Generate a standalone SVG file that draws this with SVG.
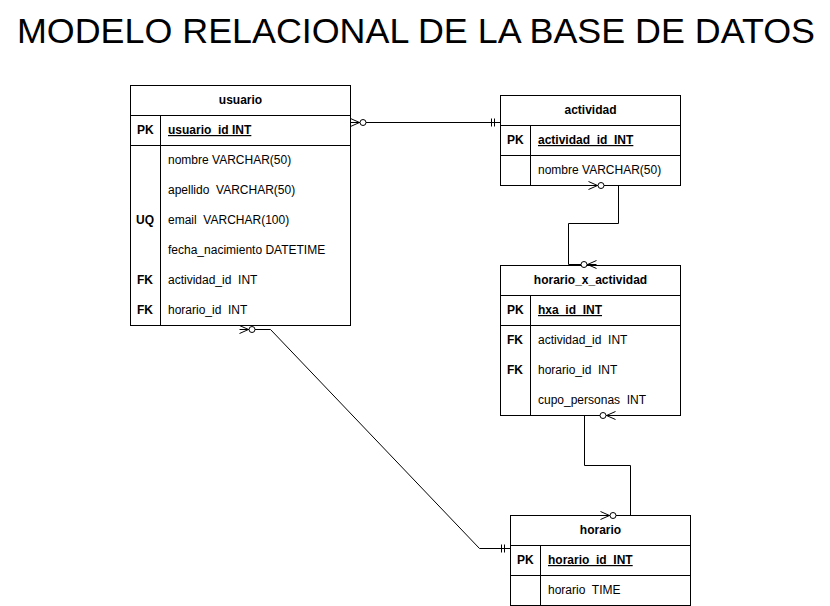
<svg xmlns="http://www.w3.org/2000/svg" width="830" height="606" viewBox="0 0 830 606" xml:space="preserve">
<style>
.box{fill:#fff;stroke:#000;stroke-width:1}
.ln{stroke:#000;stroke-width:1;fill:none}
text{font-family:"Liberation Sans",Arial,sans-serif;font-size:12px;fill:#000;white-space:pre}
.h{font-weight:bold;text-anchor:middle}
.k{font-weight:bold}
.pk{font-weight:bold;text-decoration:underline}
.title{font-size:35px}
.edge{stroke:#000;stroke-width:1;fill:none}
</style>
<defs>
<marker id="zmany" markerUnits="userSpaceOnUse" viewBox="-20 -8 24 16" refX="0" refY="0" markerWidth="24" markerHeight="16" orient="auto-start-reverse" overflow="visible">
<path d="M0,-4 L-9,0 L0,4" fill="none" stroke="#000" stroke-width="1"/>
<circle cx="-12.5" cy="0" r="3" fill="#fff" stroke="#000" stroke-width="1"/>
</marker>
<marker id="one" markerUnits="userSpaceOnUse" viewBox="-20 -8 24 16" refX="0" refY="0" markerWidth="24" markerHeight="16" orient="auto-start-reverse" overflow="visible">
<path d="M-9,-4 L-9,4 M-6,-4 L-6,4" fill="none" stroke="#000" stroke-width="1"/>
</marker>
</defs>
<rect width="830" height="606" fill="#fff"/>
<text class="title" x="17" y="43" textLength="798" lengthAdjust="spacingAndGlyphs">MODELO RELACIONAL DE LA BASE DE DATOS</text>
<g id="usuario">
<rect class="box" x="130.5" y="85.5" width="220" height="240"/>
<line class="ln" x1="130.5" y1="115.5" x2="350.5" y2="115.5"/>
<line class="ln" x1="130.5" y1="145.5" x2="350.5" y2="145.5"/>
<line class="ln" x1="160.5" y1="115.5" x2="160.5" y2="325.5"/>
<text class="h" x="240.5" y="104">usuario</text>
<text class="k" x="137" y="134">PK</text>
<text class="pk" x="168" y="134">usuario_id INT</text>
<text x="168" y="164">nombre VARCHAR(50)</text>
<text x="168" y="194">apellido  VARCHAR(50)</text>
<text class="k" x="136" y="224">UQ</text>
<text x="168" y="224">email  VARCHAR(100)</text>
<text x="168" y="254">fecha_nacimiento DATETIME</text>
<text class="k" x="137" y="284">FK</text>
<text x="168" y="284">actividad_id  INT</text>
<text class="k" x="137" y="314">FK</text>
<text x="168" y="314">horario_id  INT</text>
</g>
<g id="actividad">
<rect class="box" x="500.5" y="95.5" width="180" height="90"/>
<line class="ln" x1="500.5" y1="125.5" x2="680.5" y2="125.5"/>
<line class="ln" x1="500.5" y1="155.5" x2="680.5" y2="155.5"/>
<line class="ln" x1="530.5" y1="125.5" x2="530.5" y2="185.5"/>
<text class="h" x="590.5" y="114">actividad</text>
<text class="k" x="507" y="144">PK</text>
<text class="pk" x="538" y="144">actividad_id  INT</text>
<text x="538" y="174">nombre VARCHAR(50)</text>
</g>
<g id="horario_x_actividad">
<rect class="box" x="500.5" y="265.5" width="180" height="150"/>
<line class="ln" x1="500.5" y1="295.5" x2="680.5" y2="295.5"/>
<line class="ln" x1="500.5" y1="325.5" x2="680.5" y2="325.5"/>
<line class="ln" x1="530.5" y1="295.5" x2="530.5" y2="415.5"/>
<text class="h" x="590.5" y="284">horario_x_actividad</text>
<text class="k" x="507" y="314">PK</text>
<text class="pk" x="538" y="314">hxa_id  INT</text>
<text class="k" x="507" y="344">FK</text>
<text x="538" y="344">actividad_id  INT</text>
<text class="k" x="507" y="374">FK</text>
<text x="538" y="374">horario_id  INT</text>
<text x="538" y="404">cupo_personas  INT</text>
</g>
<g id="horario">
<rect class="box" x="510.5" y="515.5" width="180" height="90"/>
<line class="ln" x1="510.5" y1="545.5" x2="690.5" y2="545.5"/>
<line class="ln" x1="510.5" y1="575.5" x2="690.5" y2="575.5"/>
<line class="ln" x1="540.5" y1="545.5" x2="540.5" y2="605.5"/>
<text class="h" x="600.5" y="534">horario</text>
<text class="k" x="517" y="564">PK</text>
<text class="pk" x="548" y="564">horario_id  INT</text>
<text x="548" y="594">horario  TIME</text>
</g>
<g id="connectors">
<path class="edge" d="M350.5,122.5 L500.5,122.5" marker-start="url(#zmany)" marker-end="url(#one)"/>
<path class="edge" d="M588.5,185.5 L618.5,185.5 L618.5,223.5 L568.5,223.5 L568.5,264.5 L596.5,264.5" marker-start="url(#zmany)" marker-end="url(#zmany)"/>
<path class="edge" d="M615.5,415.5 L584.5,415.5 L584.5,465.5 L630.5,465.5 L630.5,515.5 L600.5,515.5" marker-start="url(#zmany)" marker-end="url(#zmany)"/>
<path class="edge" d="M239.5,329.5 L270.5,329.5 L479.5,548.5 L510.5,548.5" marker-start="url(#zmany)" marker-end="url(#one)"/>
</g>
</svg>
